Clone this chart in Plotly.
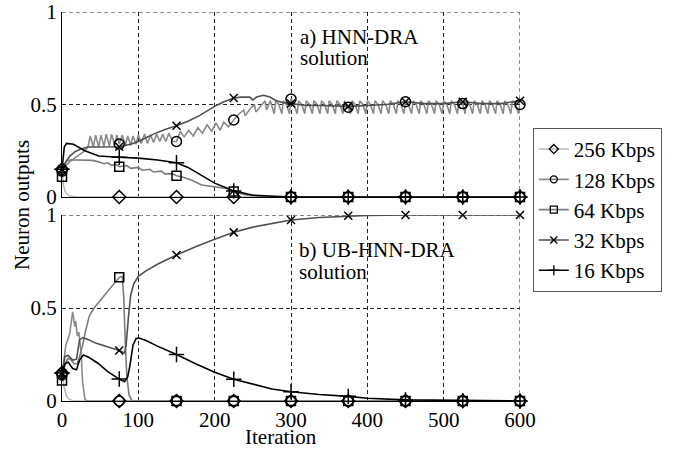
import plotly.graph_objects as go

# ---------------- data ----------------
marker_iters = [0, 75, 150, 225, 300, 375, 450, 525, 600]
series_names = ["256 Kbps", "128 Kbps", "64 Kbps", "32 Kbps", "16 Kbps"]
x_ticks = [0, 100, 200, 300, 400, 500, 600]
y_ticks = [0, 0.5, 1]
y_ticktext = ["0", "0.5", "1"]

# panel a) HNN-DRA
a256 = [(0, 0.15), (2, 0.06), (5, 0.02), (10, 0.005), (20, 0), (75, 0), (150, 0), (225, 0),
        (300, 0), (375, 0), (450, 0), (525, 0), (600, 0)]

a128 = [(0, 0.14), (5, 0.17), (10, 0.19), (15, 0.205), (20, 0.22), (25, 0.235), (30, 0.25),
        (34, 0.27), (37, 0.33), (41, 0.27), (44, 0.335), (48, 0.27), (51, 0.335), (55, 0.275),
        (58, 0.34), (62, 0.275), (65, 0.34), (69, 0.28), (72, 0.335), (75, 0.286), (79, 0.335),
        (83, 0.28), (86, 0.33), (90, 0.28), (93, 0.33), (97, 0.285), (100, 0.335), (104, 0.29),
        (108, 0.34), (112, 0.29), (116, 0.335), (120, 0.295), (124, 0.34), (128, 0.3),
        (132, 0.34), (136, 0.3), (140, 0.345), (145, 0.3),
        (150, 0.30), (155, 0.355), (160, 0.325), (166, 0.36), (172, 0.33), (178, 0.375),
        (184, 0.345), (190, 0.39), (196, 0.355), (202, 0.40), (207, 0.36), (212, 0.405),
        (218, 0.38), (225, 0.416), (232, 0.45), (238, 0.47), (240, 0.44), (247, 0.48),
        (252, 0.50), (254, 0.46), (262, 0.50), (266, 0.52), (268, 0.47), (273, 0.52),
        (278, 0.45), (280, 0.52), (284, 0.50), (288, 0.45), (290, 0.52), (294, 0.50),
        (298, 0.45), (300, 0.53), (304, 0.50), (308, 0.45), (310, 0.52), (314, 0.50),
        (318, 0.45), (320, 0.52), (324, 0.50), (328, 0.45), (330, 0.52), (334, 0.50),
        (338, 0.45), (340, 0.52), (344, 0.50), (348, 0.45), (350, 0.52), (354, 0.50),
        (358, 0.45), (360, 0.52), (364, 0.50), (368, 0.45), (370, 0.52), (375, 0.485),
        (378, 0.45), (380, 0.52), (384, 0.50), (388, 0.45), (390, 0.52), (394, 0.50),
        (398, 0.45), (400, 0.52), (404, 0.50), (408, 0.45), (410, 0.52), (414, 0.50),
        (418, 0.45), (420, 0.52), (424, 0.50), (428, 0.45), (430, 0.52), (434, 0.50),
        (438, 0.45), (440, 0.52), (444, 0.50), (448, 0.45), (450, 0.515), (454, 0.50),
        (458, 0.45), (460, 0.52), (464, 0.50), (468, 0.45), (470, 0.52), (474, 0.50),
        (478, 0.45), (480, 0.52), (484, 0.50), (488, 0.45), (490, 0.52), (494, 0.50),
        (498, 0.45), (500, 0.52), (504, 0.50), (508, 0.45), (510, 0.52), (514, 0.50),
        (518, 0.45), (520, 0.52), (525, 0.505), (528, 0.45), (530, 0.52), (534, 0.50),
        (538, 0.45), (540, 0.52), (544, 0.50), (548, 0.45), (550, 0.52), (554, 0.50),
        (558, 0.45), (560, 0.52), (564, 0.50), (568, 0.45), (570, 0.52), (574, 0.50),
        (578, 0.45), (580, 0.52), (584, 0.50), (588, 0.45), (590, 0.52), (594, 0.50),
        (598, 0.45), (600, 0.50)]

a64 = [(0, 0.11), (3, 0.17), (6, 0.195), (10, 0.2), (20, 0.2), (30, 0.2), (40, 0.198),
       (48, 0.19), (55, 0.18), (60, 0.185), (65, 0.17), (70, 0.178), (75, 0.164), (85, 0.17),
       (90, 0.155), (100, 0.16), (105, 0.145), (115, 0.15), (120, 0.135), (130, 0.14),
       (135, 0.125), (145, 0.125), (150, 0.115), (160, 0.105), (170, 0.09), (183, 0.065),
       (200, 0.055), (218, 0.045), (225, 0.03), (240, 0.012), (260, 0.003), (280, 0),
       (300, 0), (375, 0), (450, 0), (525, 0), (600, 0)]

a32 = [(0, 0.15), (5, 0.19), (10, 0.22), (17, 0.245), (25, 0.26), (34, 0.27), (50, 0.27),
       (75, 0.272), (90, 0.285), (100, 0.30), (110, 0.32), (122, 0.344), (135, 0.365),
       (150, 0.385), (165, 0.41), (180, 0.44), (200, 0.49), (212, 0.515), (225, 0.535),
       (235, 0.54), (246, 0.54), (250, 0.525), (255, 0.54), (264, 0.55), (272, 0.54),
       (281, 0.52), (290, 0.51), (300, 0.505), (320, 0.495), (340, 0.495), (360, 0.49),
       (375, 0.49), (400, 0.495), (425, 0.5), (450, 0.515), (475, 0.505), (500, 0.505),
       (525, 0.515), (550, 0.505), (575, 0.505), (600, 0.52)]

a16 = [(0, 0.15), (3, 0.27), (6, 0.29), (15, 0.285), (30, 0.25), (48, 0.222), (75, 0.215),
       (100, 0.21), (125, 0.2), (150, 0.185), (165, 0.16), (180, 0.125), (200, 0.075),
       (222, 0.038), (225, 0.033), (250, 0.01), (280, 0.002), (300, 0), (375, 0), (450, 0),
       (525, 0), (600, 0)]

# panel b) UB-HNN-DRA
b256 = [(0, 0.15), (3, 0.07), (6, 0.025), (9, 0.01), (15, 0), (75, 0), (150, 0), (225, 0),
        (300, 0), (375, 0), (450, 0), (525, 0), (600, 0)]

b128 = [(0, 0.14), (5, 0.3), (10, 0.36), (14, 0.48), (16, 0.42), (17, 0.4), (18, 0.43),
        (20, 0.35), (22, 0.37), (25, 0.26), (27, 0.1), (30, 0.01), (33, 0), (75, 0),
        (150, 0), (225, 0), (300, 0), (375, 0), (450, 0), (525, 0), (600, 0)]

b64 = [(0, 0.11), (4, 0.2), (8, 0.23), (12, 0.22), (16, 0.2), (20, 0.2), (23, 0.24),
       (27, 0.3), (31, 0.38), (36, 0.46), (42, 0.5), (50, 0.54), (60, 0.59), (68, 0.63),
       (75, 0.665), (79, 0.67), (81, 0.55), (83, 0.3), (85, 0.13), (88, 0.03), (92, 0),
       (150, 0), (225, 0), (300, 0), (375, 0), (450, 0), (525, 0), (600, 0)]

b32 = [(0, 0.15), (4, 0.24), (8, 0.245), (14, 0.22), (19, 0.225), (23, 0.33), (27, 0.34),
       (32, 0.335), (45, 0.31), (60, 0.29), (75, 0.272), (82, 0.258), (84, 0.3), (87, 0.45),
       (90, 0.57), (94, 0.63), (100, 0.67), (110, 0.7), (125, 0.735), (150, 0.785),
       (175, 0.83), (200, 0.87), (225, 0.907), (250, 0.935), (275, 0.955), (300, 0.973),
       (337, 0.987), (375, 0.996), (400, 0.998), (450, 1.0), (525, 1.0), (600, 1.0)]

b16 = [(0, 0.15), (4, 0.2), (8, 0.21), (14, 0.175), (19, 0.168), (23, 0.22), (28, 0.247),
       (35, 0.235), (47, 0.203), (60, 0.158), (75, 0.118), (82, 0.104), (86, 0.13),
       (89, 0.19), (93, 0.3), (97, 0.335), (100, 0.34), (110, 0.325), (125, 0.295),
       (150, 0.25), (175, 0.2), (200, 0.155), (225, 0.117), (250, 0.09), (275, 0.065),
       (300, 0.05), (337, 0.035), (375, 0.025), (400, 0.015), (450, 0.006), (525, 0.002),
       (600, 0)]

# ---------------- styles ----------------
line_colors = ["#b9b9b9", "#8a8a8a", "#7c7c7c", "#505050", "#000000"]
symbols = ["diamond-open", "circle-open", "square-open", "x-thin", "cross-thin"]
msizes = [10, 10, 9, 8, 11]
FONT = "Liberation Serif"
FS = 21

def tfont(size=FS):
    return dict(family=FONT, size=size, color="black")

fig = go.Figure()

panels = [
    ("x2", "y2", [a256, a128, a64, a32, a16]),
    ("x", "y", [b256, b128, b64, b32, b16]),
]

for xa, ya, data in panels:
    for i, pts in enumerate(data):
        xs = [p[0] for p in pts]
        ys = [p[1] for p in pts]
        fig.add_trace(go.Scatter(x=xs, y=ys, mode="lines", xaxis=xa, yaxis=ya,
                                 line=dict(color=line_colors[i], width=1.6),
                                 showlegend=False, hoverinfo="skip"))
    for i, pts in enumerate(data):
        mx = [p[0] for p in pts if p[0] in marker_iters]
        my = [p[1] for p in pts if p[0] in marker_iters]
        fig.add_trace(go.Scatter(x=mx, y=my, mode="markers", xaxis=xa, yaxis=ya,
                                 cliponaxis=False,
                                 marker=dict(symbol=symbols[i], size=msizes[i], color="black",
                                             line=dict(color="black", width=1.5)),
                                 showlegend=False, hoverinfo="skip"))

# legend entries
for i, name in enumerate(series_names):
    fig.add_trace(go.Scatter(x=[None], y=[None], mode="lines+markers", name=name,
                             xaxis="x", yaxis="y",
                             line=dict(color=line_colors[i], width=1.6),
                             marker=dict(symbol=symbols[i], size=7, color="black",
                                         line=dict(color="black", width=1.3))))

def axis_style():
    return dict(
        showgrid=True, gridcolor="#222", gridwidth=1, griddash="4px,3px",
        zeroline=False, showline=True, linecolor="black", linewidth=1,
        ticks="", automargin=False, tickfont=tfont(),
    )

top_dom = [0.5244, 1.0]
bot_dom = [0.0, 0.478]

fig.update_layout(
    width=685, height=451,
    margin=dict(l=62, r=165, t=12, b=50, autoexpand=False),
    paper_bgcolor="white", plot_bgcolor="white",
    xaxis=dict(domain=[0, 1], anchor="y", range=[0, 600], tickvals=x_ticks, **axis_style()),
    yaxis=dict(domain=bot_dom, anchor="x", range=[0, 1], tickvals=y_ticks,
               ticktext=y_ticktext, **axis_style()),
    xaxis2=dict(domain=[0, 1], anchor="y2", range=[0, 600], tickvals=x_ticks,
                showticklabels=False, **axis_style()),
    yaxis2=dict(domain=top_dom, anchor="x2", range=[0, 1], tickvals=y_ticks,
                ticktext=y_ticktext, **axis_style()),
    legend=dict(x=1.028, y=0.702, xanchor="left", yanchor="top",
                bordercolor="#555", borderwidth=1, bgcolor="white",
                font=tfont(), tracegroupgap=0, itemwidth=30),
    showlegend=True,
)

# dashed frame lines at x=600 and y=1 (grid lines on the range edges)
for yref, xref in (("y domain", "x"), ("y2 domain", "x2")):
    fig.add_shape(type="line", xref=xref, yref=yref, x0=600, x1=600, y0=0, y1=1,
                  line=dict(color="#222", width=1, dash="4px,3px"), layer="below")
for yref in ("y", "y2"):
    fig.add_shape(type="line", xref="paper", yref=yref, x0=0, x1=1, y0=1, y1=1,
                  line=dict(color="#222", width=1, dash="4px,3px"), layer="below")

ann = [
    dict(text="a) HNN-DRA", x=0.515, y=0.9357),
    dict(text="solution", x=0.515, y=0.8817),
    dict(text="b) UB-HNN-DRA", x=0.513, y=0.388),
    dict(text="solution", x=0.513, y=0.3316),
]
for a in ann:
    fig.add_annotation(xref="paper", yref="paper", xanchor="left", yanchor="middle",
                       showarrow=False, font=tfont(), **a)

fig.add_annotation(text="Iteration", xref="paper", yref="paper", x=0.478, y=-0.0925,
                   xanchor="center", yanchor="middle", showarrow=False, font=tfont())
fig.add_annotation(text="Neuron outputs", xref="paper", yref="paper", x=-0.0873, y=0.504,
                   xanchor="center", yanchor="middle", textangle=-90, showarrow=False,
                   font=tfont())

# remove the browser's default 8px body margin so the figure fills the window
fig.write_html("out.html",
               config={"displayModeBar": False},
               post_script="document.body.style.margin='0';document.body.style.overflow='hidden';")
